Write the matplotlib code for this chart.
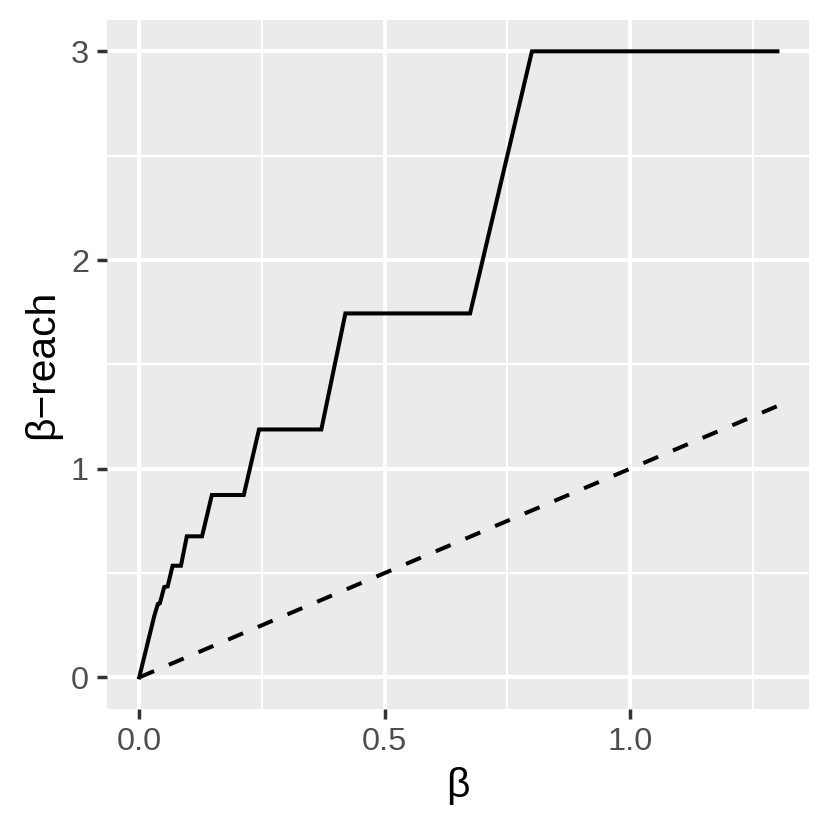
import matplotlib
matplotlib.use("Agg")
import matplotlib.pyplot as plt

plt.rcParams['font.family'] = ['Liberation Sans', 'DejaVu Sans']

# beta-reach curve
beta = [0.0, 0.031, 0.038, 0.042, 0.051, 0.058, 0.068, 0.085, 0.097, 0.128,
        0.148, 0.213, 0.244, 0.371, 0.420, 0.674, 0.800, 1.300]
reach = [0.0, 0.297, 0.352, 0.355, 0.433, 0.436, 0.535, 0.535, 0.676, 0.676,
         0.874, 0.874, 1.188, 1.188, 1.744, 1.744, 3.0, 3.0]

# identity line
diag_x = [0.0, 1.3]
diag_y = [0.0, 1.3]

x_ticks = [0.0, 0.5, 1.0]
x_labels = ["0.0", "0.5", "1.0"]
y_ticks = [0, 1, 2, 3]
y_labels = ["0", "1", "2", "3"]

fig = plt.figure(figsize=(8.3, 8.3), dpi=100)
ax = fig.add_axes([107.3 / 830, 1 - 708.7 / 830, 702 / 830, 688.7 / 830])
ax.set_facecolor("#EBEBEB")
for s in ax.spines.values():
    s.set_visible(False)

ax.plot(beta, reach, color="black", lw=2.9, solid_joinstyle="miter", zorder=3)
ax.plot(diag_x, diag_y, color="black", lw=2.9, dashes=(4.0, 4.0),
        dash_capstyle="butt", zorder=3)

ax.set_xlim(-0.065, 1.365)
ax.set_ylim(-0.15, 3.15)

ax.set_xticks(x_ticks)
ax.set_xticklabels(x_labels)
ax.set_yticks(y_ticks)
ax.set_yticklabels(y_labels)
ax.set_xticks([0.25, 0.75, 1.25], minor=True)
ax.set_yticks([0.5, 1.5, 2.5], minor=True)

ax.grid(which="major", color="white", lw=2.9)
ax.grid(which="minor", color="white", lw=1.45)
ax.set_axisbelow(True)

ax.tick_params(which="major", length=7.2, width=2.5, color="#333333",
               labelsize=23.4, labelcolor="#4D4D4D", pad=5.9)
ax.tick_params(which="minor", length=0)

ax.set_xlabel("β", fontsize=29.3, labelpad=7.3)
ax.set_ylabel("β−reach", fontsize=29.3, labelpad=7.3)

fig.savefig("out.png", dpi=100)
